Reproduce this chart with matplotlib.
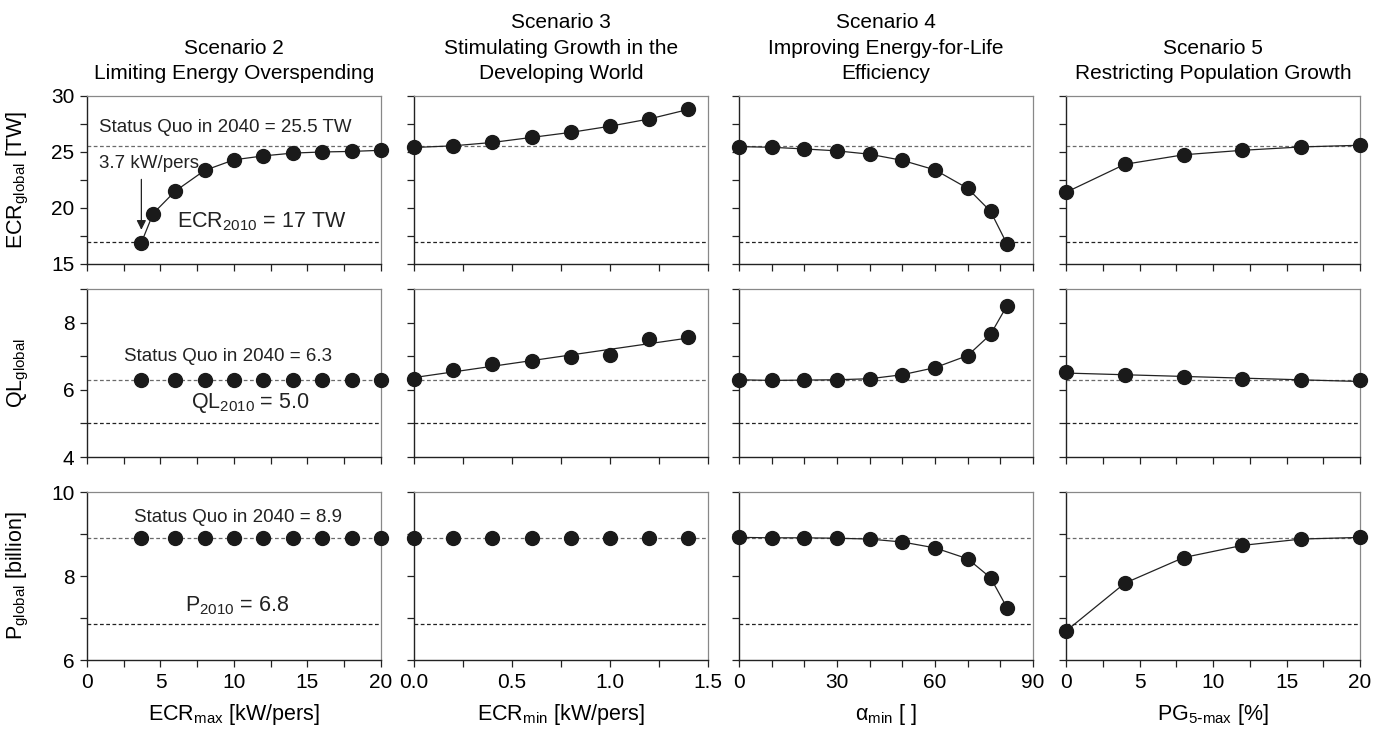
import numpy as np
import matplotlib
matplotlib.use('Agg')
import matplotlib.pyplot as plt
from matplotlib.ticker import MultipleLocator, NullFormatter

plt.rcParams['font.family'] = ['Liberation Sans', 'DejaVu Sans']
plt.rcParams['mathtext.default'] = 'regular'

# ---- data ----
titles = ['Scenario 2\nLimiting Energy Overspending',
          'Scenario 3\nStimulating Growth in the\nDeveloping World',
          'Scenario 4\nImproving Energy-for-Life\nEfficiency',
          'Scenario 5\nRestricting Population Growth']
xlabels = [r'ECR$_{max}$ [kW/pers]', r'ECR$_{min}$ [kW/pers]',
           r'$\alpha_{min}$ [ ]', r'PG$_{5\text{-}max}$ [%]']
ylabels = [r'ECR$_{global}$ [TW]', r'QL$_{global}$', r'P$_{global}$ [billion]']

ecr_max = [3.7, 4.5, 6, 8, 10, 12, 14, 16, 18, 20]
ecr_max_b = [3.7, 6, 8, 10, 12, 14, 16, 18, 20]
s2_ecr = [16.9, 19.5, 21.5, 23.35, 24.3, 24.65, 24.9, 25.0, 25.05, 25.15]
s2_ql = [6.3, 6.3, 6.3, 6.3, 6.3, 6.3, 6.3, 6.3, 6.3]
s2_pop = [8.9, 8.9, 8.9, 8.9, 8.9, 8.9, 8.9, 8.9, 8.9]

ecr_min = [0, 0.2, 0.4, 0.6, 0.8, 1.0, 1.2, 1.4]
s3_ecr = [25.4, 25.55, 25.85, 26.3, 26.75, 27.3, 27.95, 28.8]
s3_ql = [6.32, 6.6, 6.77, 6.87, 6.97, 7.03, 7.5, 7.57]
s3_pop = [8.9, 8.9, 8.9, 8.9, 8.9, 8.9, 8.9, 8.9]

alpha_min = [0, 10, 20, 30, 40, 50, 60, 70, 77, 82]
s4_ecr = [25.48, 25.42, 25.27, 25.1, 24.8, 24.25, 23.4, 21.75, 19.7, 16.8]
s4_ql = [6.3, 6.28, 6.29, 6.3, 6.33, 6.45, 6.66, 7.02, 7.65, 8.5]
s4_pop = [8.92, 8.91, 8.91, 8.9, 8.88, 8.81, 8.67, 8.41, 7.96, 7.25]

pg5_max = [0, 4, 8, 12, 16, 20]
s5_ecr = [21.4, 23.9, 24.75, 25.15, 25.45, 25.6]
s5_ql = [6.52, 6.45, 6.38, 6.33, 6.28, 6.28]
s5_pop = [6.69, 7.83, 8.44, 8.73, 8.88, 8.92]

status_quo = [25.5, 6.3, 8.9]
level_2010 = [17.0, 5.0, 6.85]

xs = [[ecr_max, ecr_min, alpha_min, pg5_max],
      [ecr_max_b, ecr_min, alpha_min, pg5_max],
      [ecr_max_b, ecr_min, alpha_min, pg5_max]]
ys = [[s2_ecr, s3_ecr, s4_ecr, s5_ecr],
      [s2_ql, s3_ql, s4_ql, s5_ql],
      [s2_pop, s3_pop, s4_pop, s5_pop]]

# how the connecting line is drawn: 'line' through points, 'fit' straight fit, None
line_kind = [['line', 'line', 'line', 'line'],
             [None, 'fit', 'line', 'fit'],
             [None, None, 'line', 'line']]

xlims = [(0, 20), (0, 1.5), (0, 90), (0, 20)]
xmajor = [5, 0.5, 30, 5]
xminor = [2.5, 0.25, 10, 2.5]
xfmt = ['{:.0f}', '{:.1f}', '{:.0f}', '{:.0f}']
ylims = [(15, 30), (4, 9), (6, 10)]
ymajor = [5, 2, 2]
yminor = [2.5, 1, 1]

fig = plt.figure(figsize=(13.87, 7.31), dpi=100)

lefts = [0.0627, 0.2985, 0.5328, 0.7686]
bottoms = [0.6389, 0.3748, 0.0971]
w, h = 0.212, 0.2298

for r in range(3):
    for c in range(4):
        ax = fig.add_axes([lefts[c], bottoms[r], w, h])
        x = np.array(xs[r][c], dtype=float)
        y = np.array(ys[r][c], dtype=float)

        ax.axhline(status_quo[r], color='#6a6a6a', lw=0.9, ls=(0, (3, 2)), zorder=1)
        ax.axhline(level_2010[r], color='#222222', lw=0.9, ls=(0, (3, 2)), zorder=1)

        kind = line_kind[r][c]
        if kind == 'line':
            ax.plot(x, y, color='#222222', lw=0.9, zorder=2)
        elif kind == 'fit':
            p = np.polyfit(x, y, 1)
            ax.plot(x, np.polyval(p, x), color='#222222', lw=0.9, zorder=2)
        ax.plot(x, y, 'o', color='#1a1a1a', ms=10, zorder=3, clip_on=False)

        ax.set_xlim(*xlims[c])
        ax.set_ylim(*ylims[r])
        ax.xaxis.set_major_locator(MultipleLocator(xmajor[c]))
        ax.xaxis.set_minor_locator(MultipleLocator(xminor[c]))
        ax.yaxis.set_major_locator(MultipleLocator(ymajor[r]))
        ax.yaxis.set_minor_locator(MultipleLocator(yminor[r]))
        ax.tick_params(which='both', direction='out', length=5, width=0.9,
                       color='#222222', pad=4, labelsize=15)

        for side in ['top', 'right']:
            ax.spines[side].set_color('#888888')
            ax.spines[side].set_linewidth(0.9)
        for side in ['left', 'bottom']:
            ax.spines[side].set_color('#222222')
            ax.spines[side].set_linewidth(1.0)

        if r == 2:
            ticks = np.arange(xlims[c][0], xlims[c][1] + 1e-9, xmajor[c])
            ax.set_xticks(ticks)
            ax.set_xticklabels([xfmt[c].format(t) for t in ticks])
            ax.set_xlabel(xlabels[c], fontsize=15.5)
            ax.xaxis.set_label_coords(0.5, -0.25)
        else:
            ax.xaxis.set_major_formatter(NullFormatter())

        if c == 0:
            ax.set_ylabel(ylabels[r], fontsize=15.5)
            ax.yaxis.set_label_coords(-0.19, 0.5)
        else:
            ax.yaxis.set_major_formatter(NullFormatter())

        if r == 0:
            ax.set_title(titles[c], fontsize=15, linespacing=1.45, pad=12)

        if c == 0:
            if r == 0:
                ax.text(0.8, 27.2, 'Status Quo in 2040 = 25.5 TW',
                        fontsize=13.5, va='center', color='#222222')
                ax.text(0.85, 24.0, '3.7 kW/pers', fontsize=13.5,
                        va='center', color='#222222')
                ax.annotate('', xy=(3.7, 17.8), xytext=(3.7, 22.8),
                            arrowprops=dict(arrowstyle='-|>', color='#222222',
                                            lw=0.9, mutation_scale=14))
                ax.text(6.1, 18.8, r'ECR$_{2010}$ = 17 TW', fontsize=15.5,
                        va='center', color='#222222')
            elif r == 1:
                ax.text(2.5, 7.0, 'Status Quo in 2040 = 6.3',
                        fontsize=13.5, va='center', color='#222222')
                ax.text(7.1, 5.6, r'QL$_{2010}$ = 5.0', fontsize=15.5,
                        va='center', color='#222222')
            else:
                ax.text(3.2, 9.4, 'Status Quo in 2040 = 8.9',
                        fontsize=13.5, va='center', color='#222222')
                ax.text(6.7, 7.3, r'P$_{2010}$ = 6.8', fontsize=15.5,
                        va='center', color='#222222')

plt.savefig('out.png', dpi=100)
